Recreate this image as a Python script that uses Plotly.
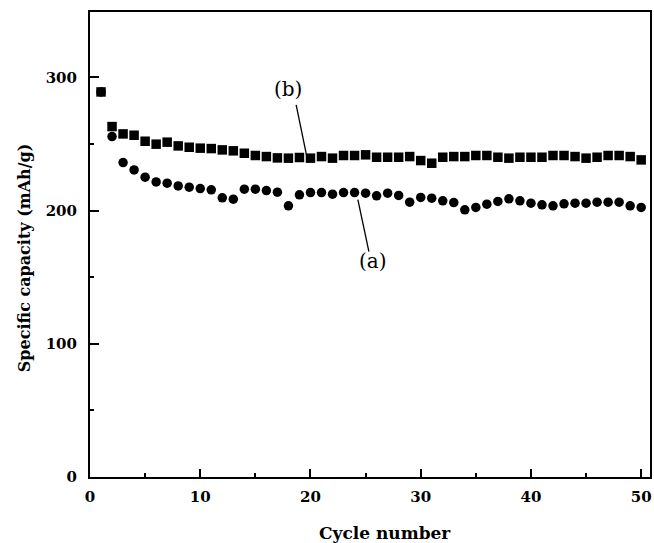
import plotly.graph_objects as go

cycles = list(range(1, 51))
cap_b = [289, 263, 257.5, 256.5, 252, 249.8, 251.3, 248.5, 247.5, 246.8,
         246.5, 245.5, 244.8, 243, 241.3, 240.5, 239.5, 239.3, 239.8, 239.3,
         240.5, 239.3, 241.3, 241.3, 241.8, 240, 240, 240, 240.5, 237.5,
         235.5, 240, 240.5, 240.5, 241.3, 241.3, 240, 239.3, 240, 240,
         240, 241.3, 241.3, 240.5, 239.3, 240, 241.3, 241.3, 240.5, 238]
cap_a = [289, 255.5, 236, 230.5, 225, 221.5, 220.5, 218.5, 217.5, 216.5,
         215.5, 209.5, 208.5, 216, 216, 215, 213.8, 203.5, 211.8, 213.5,
         213.5, 212.3, 213.5, 213.5, 213, 211, 213, 211.3, 206.3, 209.8,
         209.3, 207.3, 206, 200.5, 202.3, 204.8, 206.8, 208.8, 207.3, 205.5,
         204.3, 203.5, 205, 205.5, 205.5, 206.3, 206.3, 206.3, 203.5, 202.3]

x_ticks = [0, 10, 20, 30, 40, 50]
y_ticks = [0, 100, 200, 300]

FONT = "DejaVu Serif"

fig = go.Figure()
fig.add_trace(go.Scatter(x=cycles, y=cap_b, mode="markers",
                         marker=dict(symbol="square", size=9.5, color="black"),
                         name="(b)", showlegend=False))
fig.add_trace(go.Scatter(x=cycles, y=cap_a, mode="markers",
                         marker=dict(symbol="circle", size=9.5, color="black"),
                         name="(a)", showlegend=False))

# leader lines
fig.add_shape(type="line", x0=18.7, y0=279.3, x1=19.67, y1=240.5,
              line=dict(color="black", width=1.3), xref="x", yref="y")
fig.add_shape(type="line", x0=24.3, y0=208.1, x1=25.3, y1=169.2,
              line=dict(color="black", width=1.3), xref="x", yref="y")

fig.add_annotation(x=18.0, y=291.5, text="(b)", showarrow=False,
                   xanchor="center", yanchor="middle",
                   font=dict(family=FONT, size=20, color="black"))
fig.add_annotation(x=25.7, y=162, text="(a)", showarrow=False,
                   xanchor="center", yanchor="middle",
                   font=dict(family=FONT, size=20, color="black"))

W, H = 654, 543
L, R, T, B = 90, 2, 12, 66

def px(xp, yp):
    return (xp - L) / (W - L - R), (H - B - yp) / (H - T - B)

tx, ty = px(386, 533)
fig.add_annotation(x=tx, y=ty, xref="paper", yref="paper", text="<b>Cycle number</b>",
                   showarrow=False, xanchor="center", yanchor="middle",
                   font=dict(family=FONT, size=17, color="black"))
yx, yy = px(24, 258)
fig.add_annotation(x=yx, y=yy, xref="paper", yref="paper",
                   text="<b>Specific capacity (mAh/g)</b>", textangle=-90,
                   showarrow=False, xanchor="center", yanchor="middle",
                   font=dict(family=FONT, size=16, color="black"))

fig.update_layout(
    width=W, height=H,
    margin=dict(l=L, r=R, t=T, b=B),
    plot_bgcolor="white", paper_bgcolor="white",
    font=dict(family=FONT, color="black"),
)
fig.update_xaxes(range=[0, 50.8], tickvals=x_ticks, ticktext=[str(v) for v in x_ticks],
                 showgrid=False, zeroline=False, showline=True, mirror=True,
                 linecolor="black", linewidth=2, ticks="inside", ticklen=8, tickwidth=2,
                 tickcolor="black", ticklabelstandoff=5,
                 tickfont=dict(family=FONT, size=15, color="black", weight="bold"),
                 minor=dict(tickvals=[5, 15, 25, 35, 45], ticks="inside", ticklen=4,
                            tickwidth=2, tickcolor="black"))
fig.update_yaxes(range=[0, 349], tickvals=y_ticks, ticktext=[str(v) for v in y_ticks],
                 showgrid=False, zeroline=False, showline=True, mirror=True,
                 linecolor="black", linewidth=2, ticks="inside", ticklen=9, tickwidth=2,
                 tickcolor="black", ticklabelstandoff=8,
                 tickfont=dict(family=FONT, size=15, color="black", weight="bold"),
                 minor=dict(tickvals=[50, 150, 250], ticks="inside", ticklen=4,
                            tickwidth=2, tickcolor="black"))

fig.write_html("out.html")
